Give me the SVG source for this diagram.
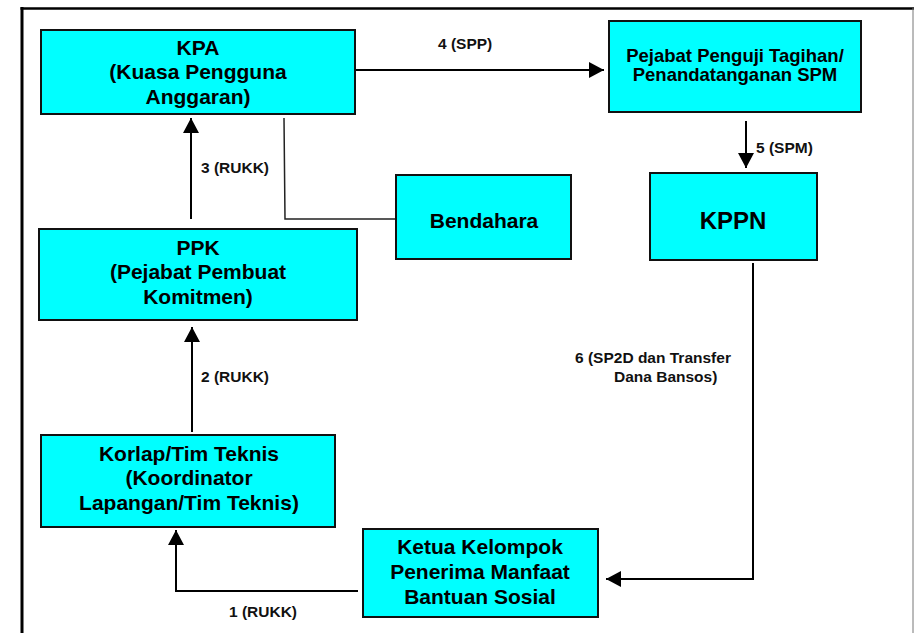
<svg xmlns="http://www.w3.org/2000/svg" width="914" height="633" viewBox="0 0 914 633">
<style>
.box{fill:#00FFFF;stroke:#111;stroke-width:2}
.t{font-family:"Liberation Sans",Arial,sans-serif;font-weight:bold;fill:#000;text-anchor:middle}
.n{font-size:21px}
.lbl{font-family:"Liberation Sans",Arial,sans-serif;font-weight:bold;font-size:15.5px;fill:#111}
.ln{fill:none;stroke:#000;stroke-width:2}
.ln1{fill:none;stroke:#222;stroke-width:1.5}
</style>
<defs>
<marker id="ah" markerWidth="16" markerHeight="16" refX="15" refY="8" orient="auto" markerUnits="userSpaceOnUse">
<path d="M0,0 L15,8 L0,16 Z" fill="#000"/>
</marker>
</defs>
<rect width="914" height="633" fill="#fff"/>
<g id="frame">
<line x1="22" y1="7" x2="22" y2="640" stroke="#000" stroke-width="3"/>
<line x1="20.5" y1="8.5" x2="914" y2="8.5" stroke="#000" stroke-width="2.5"/>
<line x1="913" y1="8" x2="913" y2="640" stroke="#777" stroke-width="1"/>
</g>
<g id="connectors">
<line class="ln" x1="345" y1="70" x2="604" y2="70" marker-end="url(#ah)"/>
<line class="ln" x1="191" y1="219" x2="191" y2="118" marker-end="url(#ah)"/>
<polyline class="ln1" points="284,118 285,219 398,219"/>
<line class="ln" x1="746" y1="121" x2="746" y2="168" marker-end="url(#ah)"/>
<line class="ln" x1="192" y1="432" x2="192" y2="327" marker-end="url(#ah)"/>
<polyline class="ln" points="753,263 753,579 606,579" marker-end="url(#ah)"/>
<polyline class="ln" points="358,591 176,591 176,530" marker-end="url(#ah)"/>
<text class="lbl" x="438" y="49">4 (SPP)</text>
<text class="lbl" x="201" y="173">3 (RUKK)</text>
<text class="lbl" x="756" y="153">5 (SPM)</text>
<text class="lbl" x="201" y="382">2 (RUKK)</text>
<text class="lbl" x="575" y="363">6 (SP2D dan Transfer</text>
<text class="lbl" x="614" y="382">Dana Bansos)</text>
<text class="lbl" x="229" y="617">1 (RUKK)</text>
</g>
<g id="kpa">
<rect class="box" x="41" y="30" width="314" height="84"/>
<text class="t n" x="198" y="55">KPA</text>
<text class="t n" x="198" y="79">(Kuasa Pengguna</text>
<text class="t n" x="198" y="104">Anggaran)</text>
</g>
<g id="pejabat">
<rect class="box" x="609" y="21" width="252" height="91"/>
<text class="t" x="735" y="62" font-size="18.5">Pejabat Penguji Tagihan/</text>
<text class="t" x="735" y="81" font-size="18.5">Penandatanganan SPM</text>
</g>
<g id="bendahara">
<rect class="box" x="396" y="175" width="175" height="84"/>
<text class="t n" x="484" y="228">Bendahara</text>
</g>
<g id="kppn">
<rect class="box" x="650" y="173" width="167" height="87"/>
<text class="t" x="733" y="229" font-size="24">KPPN</text>
</g>
<g id="ppk">
<rect class="box" x="39" y="229" width="318" height="91"/>
<text class="t n" x="198" y="255">PPK</text>
<text class="t n" x="198" y="279">(Pejabat Pembuat</text>
<text class="t n" x="198" y="304">Komitmen)</text>
</g>
<g id="korlap">
<rect class="box" x="41" y="435" width="294" height="92"/>
<text class="t n" x="189" y="461">Korlap/Tim Teknis</text>
<text class="t n" x="189" y="485">(Koordinator</text>
<text class="t n" x="189" y="510">Lapangan/Tim Teknis)</text>
</g>
<g id="ketua">
<rect class="box" x="363" y="529" width="235" height="88"/>
<text class="t n" x="480" y="554">Ketua Kelompok</text>
<text class="t n" x="480" y="579">Penerima Manfaat</text>
<text class="t n" x="480" y="604">Bantuan Sosial</text>
</g>
</svg>
